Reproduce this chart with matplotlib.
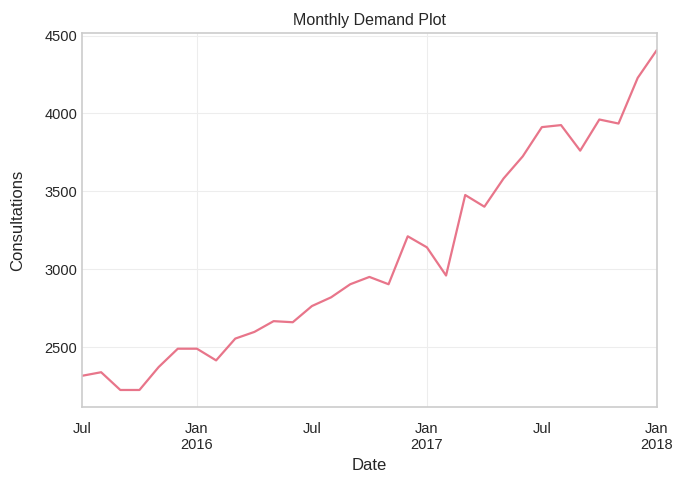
import matplotlib
matplotlib.use("Agg")
import matplotlib.pyplot as plt
import pandas as pd
import seaborn as sns

# monthly consultations, Jul 2015 .. Jan 2018
months = pd.date_range("2015-07-01", "2018-01-01", freq="MS")
consultations = [
    2315, 2338, 2224, 2224, 2371, 2489, 2489, 2414, 2554, 2597, 2666, 2659,
    2763, 2819, 2903, 2950, 2903, 3211, 3140, 2959, 3476, 3401, 3582, 3724,
    3912, 3925, 3761, 3961, 3935, 4228, 4407,
]

sns.set_style("whitegrid", {"axes.edgecolor": ".8", "grid.color": ".93"})
plt.rcParams["font.family"] = ["Liberation Sans", "DejaVu Sans"]

series = pd.Series(consultations, index=months)

fig = plt.figure(figsize=(6.86, 4.86), dpi=100)
ax = fig.add_axes([0.1195, 0.1626, 0.838, 0.7694])
series.plot(ax=ax, color="#e8758a", linewidth=1.6)
ax.set_title("Monthly Demand Plot", fontsize=11.5)
ax.set_xlabel("Date", fontsize=12, labelpad=4)
ax.set_ylabel("Consultations", fontsize=12, labelpad=14)
ax.tick_params(axis="both", which="both", labelsize=10.5, length=0)
ax.tick_params(axis="x", which="both", pad=11)
ax.set_yticks([2500, 3000, 3500, 4000, 4500])
ax.grid(True, which="major")
for s in ax.spines.values():
    s.set_linewidth(1.2)
fig.savefig("out.png", dpi=100)
